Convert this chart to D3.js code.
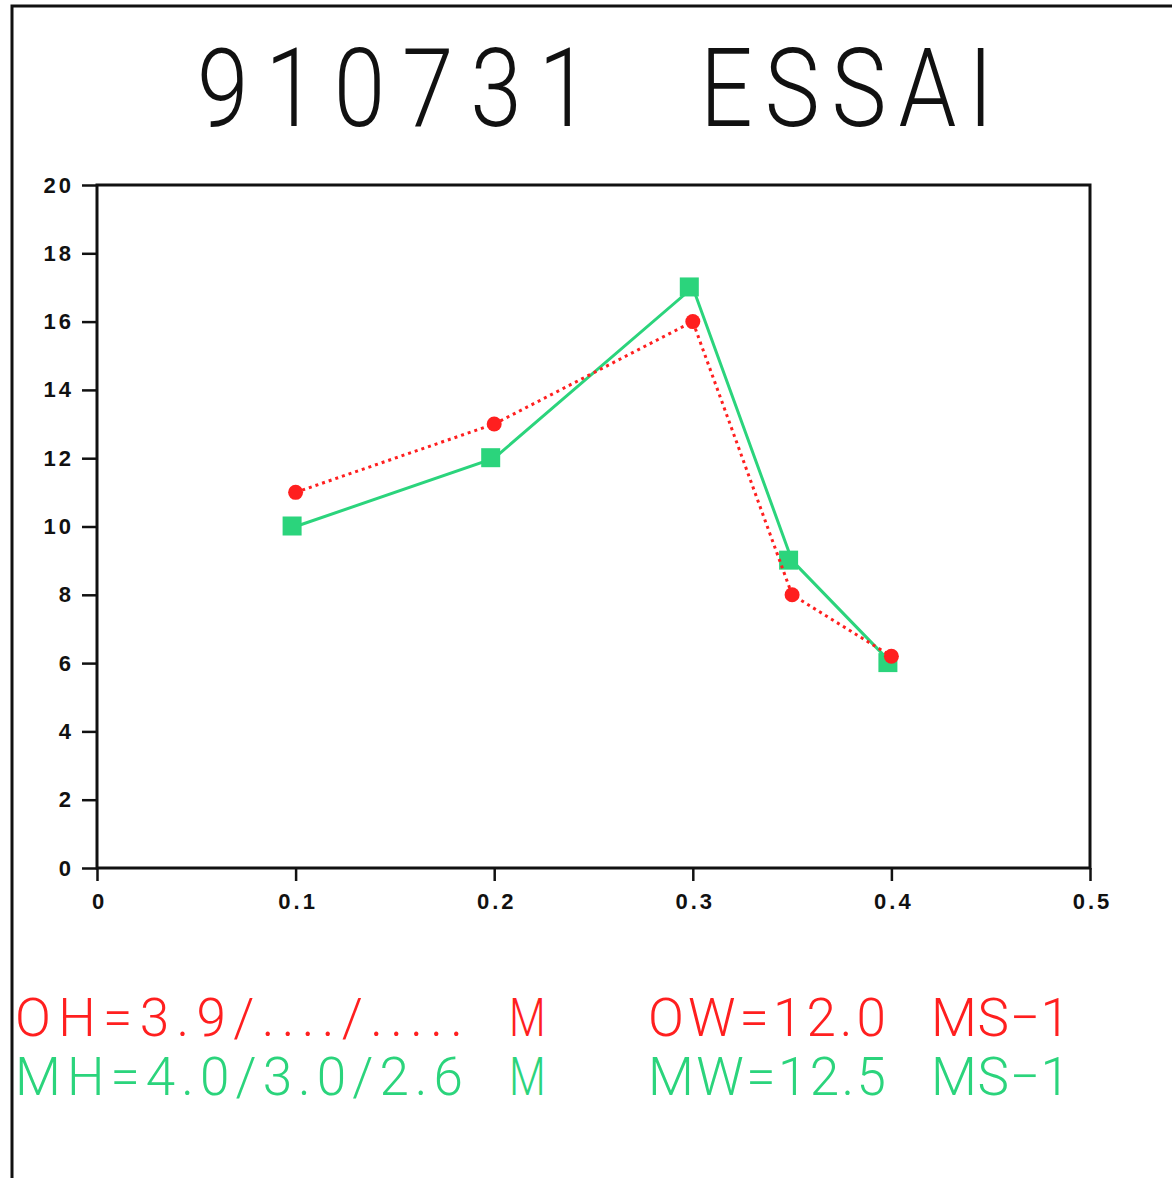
<!DOCTYPE html>
<html>
<head>
<meta charset="utf-8">
<script src="https://cdn.jsdelivr.net/npm/d3@7"></script>
<style>
  body { margin: 0; background: #fff; }
  text { font-family: "Liberation Sans", "DejaVu Sans", sans-serif; }
</style>
</head>
<body>
<div id="chart"></div>
<script>
var xValues = [0.1, 0.2, 0.3, 0.35, 0.4];
var observed = [11, 13, 16, 8, 6.2];
var model = [10, 12, 17, 9, 6];
var xTicks = [0, 0.1, 0.2, 0.3, 0.4, 0.5];
var yTicks = [0, 2, 4, 6, 8, 10, 12, 14, 16, 18, 20];
var titleWords = ["910731", "ESSAI"];
var obsLines = ["OH=3.9/..../.....", "M", "OW=12.0", "MS\u22121"];
var modLines = ["MH=4.0/3.0/2.6", "M", "MW=12.5", "MS\u22121"];

var red = "#ff1f1f";
var green = "#2bd47c";

var W = 1172, H = 1178;
var plot = {left: 97, right: 1090, top: 185, bottom: 868};

var svg = d3.select("#chart")
    .append("svg")
    .attr("width", W)
    .attr("height", H);

// page frame (top and left edge of the sheet)
svg.append("path")
    .attr("d", "M12," + H + " L12,6 L" + W + ",6")
    .style("fill", "none")
    .style("stroke", "#111")
    .style("stroke-width", 3);

// condensed thin lettering, like the plotter font
function plotterText(parent, str, px, py, len, size, sx){
    var t = parent.append("text")
        .attr("transform", "translate(" + px + "," + py + ") scale(" + sx + ",1)")
        .style("white-space", "pre")
        .style("font-family", "Roboto, 'Open Sans', sans-serif")
        .style("font-weight", 300)
        .style("font-size", size + "px")
        .text(str);
    if (str.length > 1) {
        t.attr("textLength", len / sx).attr("lengthAdjust", "spacing");
    }
    return t;
}

plotterText(svg, titleWords[0], 197, 126, 393, 109, 0.85).style("fill", "#111");
plotterText(svg, titleWords[1], 700, 126, 293, 109, 0.85).style("fill", "#111");

var x = d3.scaleLinear()
    .domain([0, 0.5])
    .range([plot.left, plot.right]);

var y = d3.scaleLinear()
    .domain([0, 20])
    .range([plot.bottom, plot.top]);

// axes
var xAxis = svg.append("g")
    .attr("transform", "translate(0," + plot.bottom + ")")
    .call(d3.axisBottom(x).tickValues(xTicks).tickSize(13).tickPadding(12)
        .tickFormat(function(d){ return d === 0 ? "0" : d3.format(".1f")(d); }));

var yAxis = svg.append("g")
    .attr("transform", "translate(" + plot.left + ",0)")
    .call(d3.axisLeft(y).tickValues(yTicks).tickSize(15).tickPadding(8));

[xAxis, yAxis].forEach(function(a){
    a.select(".domain").remove();
    a.selectAll(".tick line").style("stroke", "#111").style("stroke-width", 2.5);
    a.selectAll(".tick text")
        .style("font-size", "22px")
        .style("font-weight", "bold")
        .style("letter-spacing", "3px")
        .style("fill", "#111")
        .attr("font-family", null);
});
xAxis.selectAll(".tick text").attr("dx", "2px");

svg.append("rect")
    .attr("x", plot.left)
    .attr("y", plot.top)
    .attr("width", plot.right - plot.left)
    .attr("height", plot.bottom - plot.top)
    .style("fill", "none")
    .style("stroke", "#111")
    .style("stroke-width", 3);

// model series (green, solid, squares)
var modelData = xValues.map(function(v, i){ return [v, model[i]]; });
var obsData = xValues.map(function(v, i){ return [v, observed[i]]; });

var line = d3.line()
    .x(function(d){ return x(d[0]); })
    .y(function(d){ return y(d[1]); });

svg.append("path")
    .datum(modelData)
    .attr("d", line)
    .style("fill", "none")
    .style("stroke", green)
    .style("stroke-width", 3);

svg.append("g")
    .selectAll("rect")
    .data(modelData)
    .enter()
    .append("rect")
    .attr("x", function(d){ return x(d[0]) - 13; })
    .attr("y", function(d){ return y(d[1]) - 10; })
    .attr("width", 19)
    .attr("height", 19)
    .style("fill", green);

// observed series (red, dotted, circles)
svg.append("path")
    .datum(obsData)
    .attr("d", line)
    .style("fill", "none")
    .style("stroke", red)
    .style("stroke-width", 3)
    .style("stroke-dasharray", "3,4");

svg.append("g")
    .selectAll("circle")
    .data(obsData)
    .enter()
    .append("circle")
    .attr("cx", function(d){ return x(d[0]); })
    .attr("cy", function(d){ return y(d[1]); })
    .attr("r", 7.5)
    .style("fill", red);

// summary text
function infoRow(parts, color, baseline){
    var g = svg.append("g").style("fill", color);
    var spec = [
        {x: 15, len: 448, sx: 1},
        {x: 509, len: 35, sx: 0.8},
        {x: 648, len: 238, sx: 1},
        {x: 931, len: 139, sx: 1}
    ];
    parts.forEach(function(t, i){
        plotterText(g, t, spec[i].x, baseline, spec[i].len, 53, spec[i].sx);
    });
}
infoRow(obsLines, red, 1036);
infoRow(modLines, green, 1095);
</script>
</body>
</html>
